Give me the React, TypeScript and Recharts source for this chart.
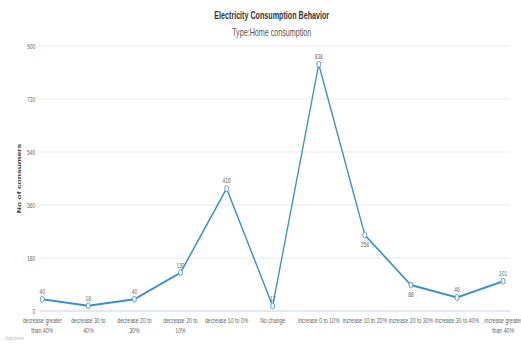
import { LineChart, Line, XAxis, YAxis, CartesianGrid, LabelList } from 'recharts'

// x categories, as the reference breaks them over lines
const categories = [
  'decrease greater\nthan 40%',
  'decrease 30 to\n40%',
  'decrease 20 to\n30%',
  'decrease 20 to\n10%',
  'decrease 10 to 0%',
  'No change',
  'increase 0 to 10%',
  'increase 10 to 20%',
  'increase 20 to 30%',
  'increase 30 to 40%',
  'increase greater\nthan 40%',
]
const consumers = [40, 18, 40, 130, 416, 17, 838, 258, 88, 46, 101]
const yTicks = [0, 180, 360, 540, 720, 900]

const data = categories.map((c, i) => ({ category: c, consumers: consumers[i] }))

const LINE = '#3a8fc7'
const SQUEEZE = 0.65
const W = 802
const H = 345

function CategoryTick({ x, y, payload }: any) {
  const lines = String(payload.value).split('\n')
  return (
    <g transform={`translate(${x},${y})`}>
      {lines.map((l, i) => (
        <text key={i} x={0} y={0} dy={4 + i * 10} textAnchor="middle" fontSize={8} fill="#666">
          {l}
        </text>
      ))}
    </g>
  )
}

// label goes under the point when the line keeps falling through it
function PointLabel({ x, y, value, index }: any) {
  const prev = consumers[index - 1]
  const next = consumers[index + 1]
  const below = prev !== undefined && next !== undefined && prev > value && value > next
  return (
    <text x={x} y={below ? y + 12 : y - 5} textAnchor="middle" fontSize={7.5} fill="#666">
      {value}
    </text>
  )
}

export default function App() {
  return (
    <div style={{ position: 'absolute', left: 0, top: 0, width: 521, height: H, overflow: 'hidden', background: '#fff' }}>
      <div
        style={{
          position: 'relative',
          width: W,
          height: H,
          transform: `scaleX(${SQUEEZE})`,
          transformOrigin: '0 0',
          fontFamily: '"Liberation Sans", Arial, sans-serif',
        }}
      >
        <div style={{ position: 'absolute', left: 0, top: 10, width: 836, textAlign: 'center', fontSize: 11, fontWeight: 'bold', color: '#333', lineHeight: 1 }}>
          Electricity Consumption Behavior
        </div>
        <div style={{ position: 'absolute', left: 0, top: 27, width: 836, textAlign: 'center', fontSize: 11, color: '#555', lineHeight: 1 }}>
          Type:Home consumption
        </div>
        <LineChart width={W} height={H} data={data} margin={{ top: 46, right: 17, bottom: 4, left: 0 }}>
          <CartesianGrid vertical={false} stroke="#e6e6e6" />
          <XAxis
            dataKey="category"
            interval={0}
            height={30}
            tickLine={false}
            axisLine={{ stroke: '#ccd6eb' }}
            tick={<CategoryTick />}
            padding={{ left: 5, right: 11 }}
          />
          <YAxis
            width={60}
            domain={[0, 900]}
            ticks={yTicks}
            tickLine={false}
            axisLine={false}
            tickMargin={0}
            tick={{ fontSize: 7.5, fill: '#666' }}
            label={{
              value: 'No of consumers',
              angle: -90,
              position: 'insideLeft',
              offset: 29,
              style: { textAnchor: 'middle', fontSize: 8.5, fontWeight: 'bold', fill: '#333' },
            }}
          />
          <Line
            type="linear"
            dataKey="consumers"
            stroke={LINE}
            strokeWidth={2}
            dot={{ r: 3, fill: '#fff', stroke: LINE, strokeWidth: 1 }}
            isAnimationActive={false}
          >
            <LabelList dataKey="consumers" content={<PointLabel />} />
          </Line>
        </LineChart>
        <div style={{ position: 'absolute', left: 8, top: 335, fontSize: 6, color: '#bbb' }}>Highcharts</div>
      </div>
    </div>
  )
}
